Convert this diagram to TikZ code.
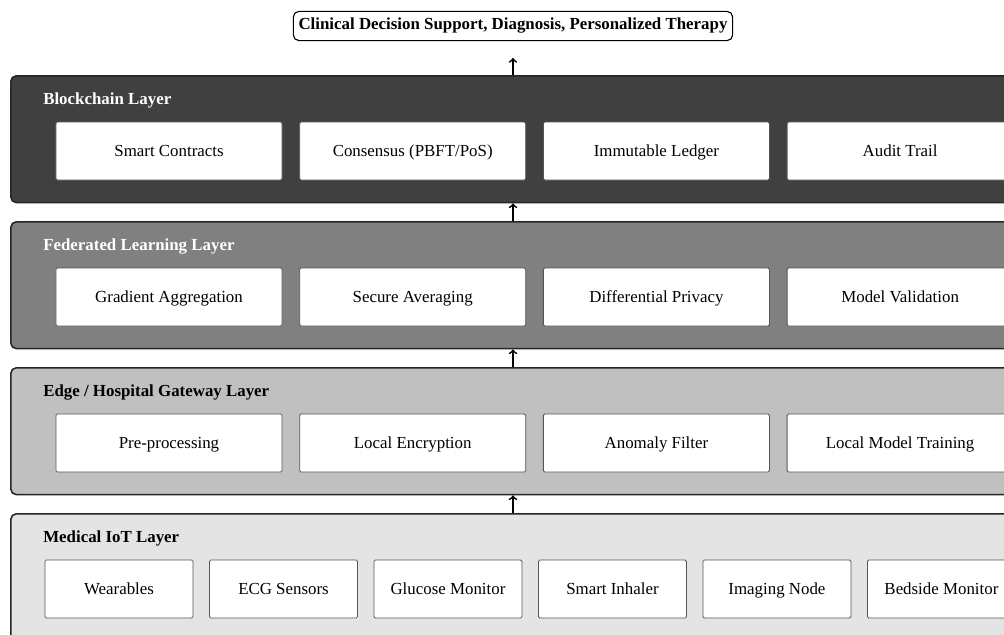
\documentclass[tikz,border=0pt]{standalone}
\usepackage{fontspec}
\setmainfont{Liberation Serif}
\usetikzlibrary{positioning}

\definecolor{chaingray}{HTML}{404040}
\definecolor{fedgray}{HTML}{808080}
\definecolor{edgegray}{HTML}{C0C0C0}
\definecolor{iotgray}{HTML}{E4E4E4}
\definecolor{boxline}{HTML}{555555}

\tikzset{
	layer/.style={draw=black!85, line width=1.1pt, rounded corners=4pt, anchor=north west,
		inner sep=0pt, minimum width=26cm, minimum height=3.17cm},
	layername/.style={anchor=base west, inner sep=0pt, font=\bfseries\fontsize{12}{14}\selectfont},
	part/.style={draw=boxline, fill=white, line width=0.6pt, rounded corners=1pt,
		minimum width=5.65cm, minimum height=1.45cm, text height=2ex, text depth=0.4ex,
		font=\fontsize{12}{14}\selectfont},
	device/.style={part, minimum width=3.7cm},
	flow/.style={very thick, ->},
}

\begin{document}
\begin{tikzpicture}[x=0.025cm, y=-0.025cm, node distance=0.42cm]
	\clip (0,0) rectangle (1004,634);
	% top output
	\node at (513,26)[draw, thick, rounded corners=4pt, inner xsep=0.13cm, minimum height=0.73cm,
		font=\bfseries\fontsize{12}{14}\selectfont] (title) {Clinical Decision Support, Diagnosis, Personalized Therapy};

	% layers
	\node at (10,75)[layer, fill=chaingray]  (chain) {};
	\node at (10,221)[layer, fill=fedgray]   (fed) {};
	\node at (10,367)[layer, fill=edgegray]  (edge) {};
	\node at (10,513)[layer, fill=iotgray]   (iot) {};

	\node at (43,104)[layername, text=white]  (chainname) {Blockchain Layer};
	\node at (43,250)[layername, text=white]  (fedname)   {Federated Learning Layer};
	\node at (43,396)[layername]              (edgename)  {Edge / Hospital Gateway Layer};
	\node at (43,542)[layername]              (iotname)   {Medical IoT Layer};

	% blockchain
	\node at (169,151)[part] (contracts) {Smart Contracts};
	\node[part, right=of contracts] (consensus) {Consensus (PBFT/PoS)};
	\node[part, right=of consensus] (ledger) {Immutable Ledger};
	\node[part, right=of ledger] (audit) {Audit Trail};

	% federated learning
	\node at (169,297)[part] (gradient) {Gradient Aggregation};
	\node[part, right=of gradient] (secavg) {Secure Averaging};
	\node[part, right=of secavg] (privacy) {Differential Privacy};
	\node[part, right=of privacy] (validate) {Model Validation};

	% edge gateway
	\node at (169,443)[part] (preproc) {Pre-processing};
	\node[part, right=of preproc] (encrypt) {Local Encryption};
	\node[part, right=of encrypt] (anomaly) {Anomaly Filter};
	\node[part, right=of anomaly] (training) {Local Model Training};

	% devices
	\node at (119,589)[device] (wear) {Wearables};
	\node[device, right=0.39cm of wear] (ecg) {ECG Sensors};
	\node[device, right=0.39cm of ecg] (glucose) {Glucose Monitor};
	\node[device, right=0.39cm of glucose] (inhaler) {Smart Inhaler};
	\node[device, right=0.39cm of inhaler] (imaging) {Imaging Node};
	\node[device, right=0.39cm of imaging] (bedside) {Bedside Monitor};

	% data flow upwards
	\draw[flow] (iot.north -| title.south) -- (edge.south -| title.south);
	\draw[flow] (edge.north -| title.south) -- (fed.south -| title.south);
	\draw[flow] (fed.north -| title.south) -- (chain.south -| title.south);
	\draw[flow, shorten >=0.42cm] (chain.north -| title.south) -- (title.south);
\end{tikzpicture}
\end{document}
